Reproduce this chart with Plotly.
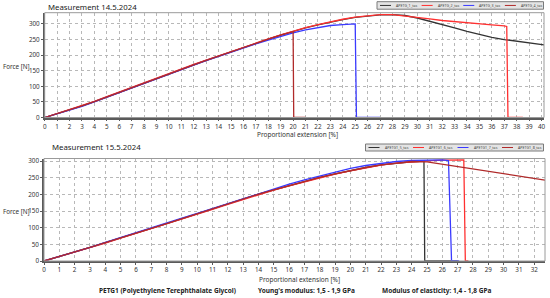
import plotly.graph_objects as go

# ---------------- data ----------------
# Measurement 14.5.2024
top_names = ["APETG_1_tas", "APETG_2_tas", "APETG_3_tas", "APETG_4_tas"]
t1_x = list(range(0, 41)) + [40.2]
t1_y = [0, 12, 24, 37, 51, 66, 81, 96, 111, 125,
        140, 154, 169, 183, 197, 211, 225, 238, 251, 264,
        276, 287, 297, 306, 314, 321, 326, 329, 330, 327,
        319, 309, 298, 287, 276, 266, 257, 250, 245, 240,
        235, 233]
t2_x = list(range(0, 38)) + [37.2, 37.3, 38.5]
t2_y = [0, 13, 25, 38, 52, 67, 82, 97, 112, 126,
        141, 155, 170, 184, 198, 212, 226, 239, 252, 265,
        277, 288, 298, 307, 315, 322, 327, 330, 330, 326,
        320, 316, 311, 307, 303, 300, 297, 294,
        292, 0, 0]
t3_x = list(range(0, 26)) + [25.1, 27]
t3_y = [0, 12, 23, 36, 50, 65, 80, 95, 110, 124,
        139, 153, 168, 182, 196, 210, 223, 236, 248, 260,
        271, 281, 289, 295, 298, 300,
        0, 0]
t4_x = list(range(0, 21)) + [20.05, 21]
t4_y = [0, 12, 24, 37, 51, 66, 81, 96, 111, 125,
        140, 154, 169, 183, 197, 211, 225, 238, 251, 264,
        275, 0, 0]

# Measurement 15.5.2024
bot_names = ["APETG1_5_tas", "APETG1_6_tas", "APETG1_7_tas", "APETG1_8_tas"]
b5_x = list(range(0, 25)) + [24.8, 24.85, 27]
b5_y = [0, 13, 27, 41, 55, 70, 84, 98, 112, 127,
        141, 156, 171, 186, 201, 214, 227, 239, 251, 262,
        272, 281, 289, 294, 298,
        300, 0, 0]
b6_x = list(range(0, 28)) + [27.4, 27.5, 27.7]
b6_y = [0, 13, 26, 40, 54, 69, 83, 97, 111, 126,
        140, 155, 170, 185, 200, 213, 226, 238, 250, 261,
        271, 280, 288, 294, 298, 301, 303, 304,
        304, 0, 0]
b7_x = list(range(0, 27)) + [26.4, 26.6, 27.1]
b7_y = [0, 13, 27, 41, 56, 71, 86, 100, 114, 129,
        143, 158, 173, 188, 203, 217, 231, 244, 256, 268,
        278, 287, 294, 299, 302, 304, 304,
        302, 0, 0]
b8_x = list(range(0, 33)) + [32.7]
b8_y = [0, 13, 27, 41, 55, 70, 84, 98, 112, 127,
        141, 156, 171, 186, 201, 214, 227, 239, 251, 262,
        272, 281, 289, 295, 299, 298, 291, 283, 276, 270,
        263, 256, 249,
        243]

series_colors = ["#333333", "#ff3030", "#3a3aff", "#b02a2a"]

top_titles = "Measurement 14.5.2024"
bot_titles = "Measurement 15.5.2024"
x_title = "Proportional extension [%]"
y_title = "Force [N]"
footer = ["PETG1 (Polyethylene Terephthalate Glycol)",
          "Young's modulus: 1,5 - 1,9 GPa",
          "Modulus of elasticity: 1,4 - 1,8 GPa"]

# ---------------- figure ----------------
W, H = 550, 298
FONT = "Noto Sans"
fig = go.Figure()

top_data = [(t1_x, t1_y), (t2_x, t2_y), (t3_x, t3_y), (t4_x, t4_y)]
bot_data = [(b5_x, b5_y), (b6_x, b6_y), (b7_x, b7_y), (b8_x, b8_y)]

for (xs, ys), name, col in zip(top_data, top_names, series_colors):
    fig.add_trace(go.Scatter(x=xs, y=ys, name=name, mode="lines",
                             line=dict(color=col, width=1.3),
                             xaxis="x", yaxis="y", showlegend=False))
for (xs, ys), name, col in zip(bot_data, bot_names, series_colors):
    fig.add_trace(go.Scatter(x=xs, y=ys, name=name, mode="lines",
                             line=dict(color=col, width=1.3),
                             xaxis="x2", yaxis="y2", showlegend=False))

def px_x(p):
    return p / W

def px_y(p):
    return 1 - p / H

axis_common = dict(
    showgrid=True, gridcolor="#b8b8b8", griddash="dot", gridwidth=1,
    zeroline=False, showline=True, linecolor="#5a5a5a", linewidth=1.5,
    ticks="outside", ticklen=2, tickcolor="#5a5a5a",
    tickfont=dict(family=FONT, size=6.3, color="#333333"),
    fixedrange=True, automargin=False,
)

fig.update_layout(
    width=W, height=H,
    margin=dict(l=0, r=0, t=0, b=0, pad=0),
    paper_bgcolor="white", plot_bgcolor="white",
    xaxis=dict(domain=[px_x(44.7), px_x(544)], range=[0, 40.2], dtick=1, tick0=0,
               anchor="y", **axis_common),
    yaxis=dict(domain=[px_y(117.5), px_y(12.7)], range=[0, 336], dtick=50, tick0=0,
               anchor="x", **axis_common),
    xaxis2=dict(domain=[px_x(44), px_x(545)], range=[0, 32.7], dtick=1, tick0=0,
                anchor="y2", **axis_common),
    yaxis2=dict(domain=[px_y(261), px_y(158.5)], range=[0, 308], dtick=50, tick0=0,
                anchor="x2", **axis_common),
)

shapes = []
for xr, yr in (("x", "y"), ("x2", "y2")):
    shapes.append(dict(type="rect", xref=xr + " domain", yref=yr + " domain",
                       x0=0, x1=1, y0=0, y1=1,
                       line=dict(color="#9a9a9a", width=1)))

annotations = []
txt = dict(family=FONT, size=7.8, color="#222222")

# titles
annotations.append(dict(text=top_titles, x=px_x(46), y=px_y(6.7), xref="paper", yref="paper",
                        xanchor="left", yanchor="middle", showarrow=False, font=txt))
annotations.append(dict(text=bot_titles, x=px_x(50), y=px_y(146.7), xref="paper", yref="paper",
                        xanchor="left", yanchor="middle", showarrow=False, font=txt))
# axis titles
for ty, xc in ((134.5, 297.5), (279, 299.5)):
    annotations.append(dict(text=x_title, x=px_x(xc), y=px_y(ty), xref="paper", yref="paper",
                            xanchor="center", yanchor="middle", showarrow=False,
                            font=dict(family=FONT, size=6.5, color="#333333")))
for ty in (66, 211):
    annotations.append(dict(text=y_title, x=px_x(0.5), y=px_y(ty), xref="paper", yref="paper",
                            xanchor="left", yanchor="middle", showarrow=False,
                            font=dict(family=FONT, size=6.3, color="#333333")))
# footer
for t, xc in zip(footer, (167, 306, 436)):
    annotations.append(dict(text="<b>" + t + "</b>", x=px_x(xc), y=px_y(290.7),
                            xref="paper", yref="paper", xanchor="center", yanchor="middle",
                            showarrow=False, font=dict(family=FONT, size=6.5, color="#222222")))

# legends (box + line samples + labels)
def add_legend(names, x0, x1, y0, y1):
    shapes.append(dict(type="rect", xref="paper", yref="paper",
                       x0=px_x(x0), x1=px_x(x1), y0=px_y(y1), y1=px_y(y0),
                       fillcolor="#e4e4e4", line=dict(color="#7a7a7a", width=1)))
    pitch = (x1 - x0) / len(names)
    ym = (y0 + y1) / 2
    for i, (n, c) in enumerate(zip(names, series_colors)):
        lx = x0 + 3 + i * pitch
        shapes.append(dict(type="line", xref="paper", yref="paper",
                           x0=px_x(lx), x1=px_x(lx + 11), y0=px_y(ym), y1=px_y(ym),
                           line=dict(color=c, width=1)))
        annotations.append(dict(text=n, x=px_x(lx + 14), y=px_y(ym), xref="paper", yref="paper",
                                xanchor="left", yanchor="middle", showarrow=False,
                                font=dict(family=FONT, size=3.6, color="#444444")))

add_legend(top_names, 377, 543.5, 1.7, 9.2)
add_legend(bot_names, 365.5, 543.5, 144, 151)

fig.update_layout(shapes=shapes, annotations=annotations)
fig.write_html("out.html", config={"displayModeBar": False},
               post_script="document.body.style.margin='0';document.body.style.padding='0';")
